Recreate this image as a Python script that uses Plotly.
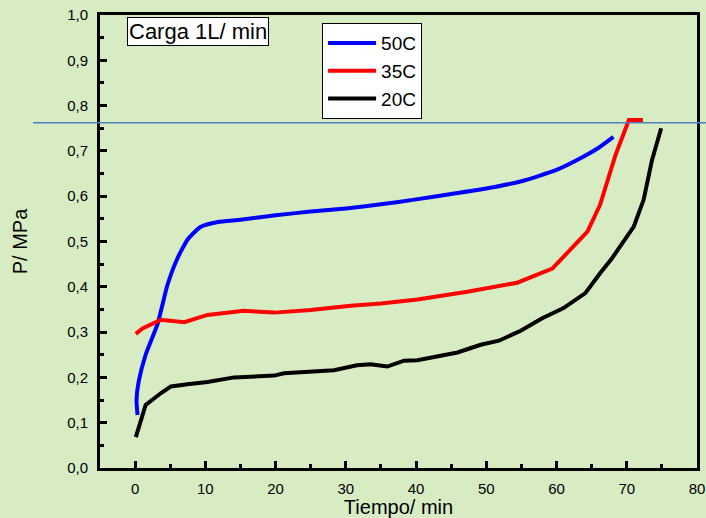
import plotly.graph_objects as go

# ---- data ----
t_50 = [0.34, 0.2, 0.5, 1.5, 3.2, 4.6, 6.0, 7.5, 9.3, 11.8, 15, 20, 25, 30, 35, 40, 45, 50, 55, 60, 63.8, 66, 68.1]
p_50 = [0.117, 0.15, 0.19, 0.25, 0.318, 0.404, 0.462, 0.505, 0.532, 0.543, 0.548, 0.558, 0.566, 0.573, 0.582, 0.593, 0.605, 0.617, 0.633, 0.658, 0.687, 0.707, 0.731]

t_35 = [0.1, 1.05, 3.65, 7.0, 10.3, 15.5, 19.8, 25, 30.7, 35, 40.2, 47.3, 54.4, 59.4, 64.4, 66.2, 68.4, 70.3, 72.3]
p_35 = [0.296, 0.308, 0.327, 0.322, 0.338, 0.347, 0.343, 0.349, 0.358, 0.363, 0.372, 0.389, 0.409, 0.44, 0.522, 0.581, 0.691, 0.768, 0.768]

t_20 = [0.1, 1.5, 3.65, 5.1, 7.45, 10.3, 14.1, 19.8, 21.2, 28.3, 31.6, 33.5, 35.9, 38.3, 40.2, 45.9, 49.2, 51.8, 54.9, 57.9, 61.0, 64.1, 66.2, 67.9, 71.0, 72.4, 73.6, 74.9]
p_20 = [0.068, 0.139, 0.165, 0.18, 0.185, 0.19, 0.2, 0.204, 0.209, 0.216, 0.227, 0.229, 0.224, 0.237, 0.238, 0.255, 0.272, 0.281, 0.303, 0.33, 0.353, 0.386, 0.43, 0.463, 0.533, 0.592, 0.68, 0.75]

ref_level = 0.762
x_ticks = [0, 10, 20, 30, 40, 50, 60, 70, 80]

BG = "#d8ecc4"
FONT = "Liberation Sans, Arial, sans-serif"

fig = go.Figure()
fig.add_trace(go.Scatter(x=t_50, y=p_50, mode="lines", name="50C",
                         line=dict(color="#0000ff", width=4, shape="spline", smoothing=0.5)))
fig.add_trace(go.Scatter(x=t_35, y=p_35, mode="lines", name="35C",
                         line=dict(color="#ff0000", width=4)))
fig.add_trace(go.Scatter(x=t_20, y=p_20, mode="lines", name="20C",
                         line=dict(color="#000000", width=4)))

fig.add_shape(type="line", xref="paper", yref="y", x0=-0.112, x1=1.02,
              y0=ref_level, y1=ref_level, line=dict(color="#4f81bd", width=1.5))

fig.add_annotation(text="Carga 1L/ min", xref="paper", yref="paper",
                   x=0.045, y=0.996, xanchor="left", yanchor="top", showarrow=False,
                   font=dict(size=22, color="black", family=FONT),
                   bgcolor="white", bordercolor="black", borderwidth=1, borderpad=1)

fig.update_layout(
    width=706, height=518,
    margin=dict(l=100, r=9, t=15, b=50),
    paper_bgcolor=BG, plot_bgcolor=BG,
    separators=",.",
    font=dict(family=FONT, color="black", size=15),
    showlegend=True,
    legend=dict(x=0.372, y=0.982, xanchor="left", yanchor="top",
                bgcolor="white", bordercolor="black", borderwidth=1,
                font=dict(size=19, family=FONT), tracegroupgap=0,
                itemwidth=48),
)
fig.update_xaxes(range=[-5, 80], tickvals=x_ticks, showgrid=False, zeroline=False,
                 automargin=False,
                 showline=True, linecolor="black", linewidth=3, mirror=True,
                 ticks="inside", ticklen=7, tickwidth=2.5, tickcolor="black",
                 minor=dict(dtick=5, ticks="inside", ticklen=4, tickwidth=2.5, tickcolor="black"),
                 tickfont=dict(size=15), ticklabelstandoff=5,
                 title=dict(text="Tiempo/ min", font=dict(size=20), standoff=2))
fig.update_yaxes(range=[0, 1], dtick=0.1, tickformat=".1f", showgrid=False, zeroline=False,
                 automargin=False,
                 showline=True, linecolor="black", linewidth=3, mirror=True,
                 ticks="inside", ticklen=7, tickwidth=2.5, tickcolor="black",
                 minor=dict(dtick=0.05, ticks="inside", ticklen=4, tickwidth=2.5, tickcolor="black"),
                 tickfont=dict(size=15), ticklabelstandoff=6,
                 title=dict(text="P/ MPa", font=dict(size=20), standoff=35))

fig.write_html("out.html", config={"displayModeBar": False},
               post_script="document.body.style.margin='0';document.body.style.background='#d8ecc4';")
